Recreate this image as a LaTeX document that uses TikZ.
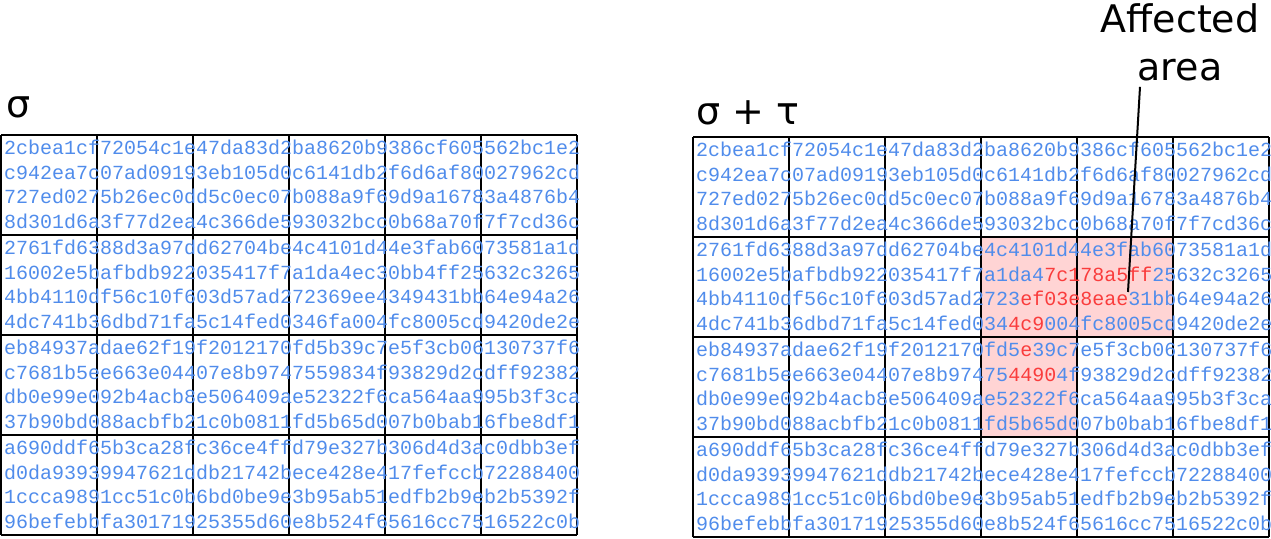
\documentclass[tikz,border=0pt]{standalone}
\usepackage{fontspec}
\setmainfont{DejaVu Sans}
\newfontfamily\hexfont{Liberation Mono}
\usetikzlibrary{calc}
\definecolor{hexblue}{RGB}{80,140,235}
\definecolor{hexred}{RGB}{250,60,60}
\definecolor{affectfill}{RGB}{255,212,212}
\newcommand{\changed}[1]{\textcolor{hexred}{#1}}
\tikzset{
    hex/.style={anchor=base west, inner sep=0pt, text=hexblue, font=\hexfont\fontsize{20}{24}\selectfont},
    title/.style={anchor=base west, inner sep=0pt, font=\fontsize{38}{48}\selectfont},
    callout/.style={anchor=north, inner sep=0pt, align=center, font=\fontsize{38}{48}\selectfont},
    cellgrid/.style={line width=2.2pt, black},
    hitcell/.style={fill=affectfill},
    pointer/.style={line width=2pt}
}
\begin{document}
\begin{tikzpicture}[x=1pt, y=1pt]
    \useasboundingbox (0,0) rectangle (1271,538);

    % sigma
    \node (sigma) [title] at (6,420) {σ};
    \begin{scope}[shift={(1,3)}]
        \draw [cellgrid] (0,0) grid[xstep=96, ystep=100] (576,400);
        \node (s11) [hex] at (3,380) {2cbea1cf72054c1e47da83d2ba8620b9386cf605562bc1e2};
        \node (s12) [hex] at (3,355.6) {c942ea7c07ad09193eb105d0c6141db2f6d6af80027962cd};
        \node (s13) [hex] at (3,331.2) {727ed0275b26ec0dd5c0ec07b088a9f69d9a16783a4876b4};
        \node (s14) [hex] at (3,306.8) {8d301d6a3f77d2ea4c366de593032bcc0b68a70f7f7cd36c};
        \node (s21) [hex] at (3,280) {2761fd6388d3a97dd62704be4c4101d44e3fab6073581a1d};
        \node (s22) [hex] at (3,255.6) {16002e5bafbdb922035417f7a1da4ec30bb4ff25632c3265};
        \node (s23) [hex] at (3,231.2) {4bb4110df56c10f603d57ad272369ee4349431bb64e94a26};
        \node (s24) [hex] at (3,206.8) {4dc741b36dbd71fa5c14fed0346fa004fc8005cd9420de2e};
        \node (s31) [hex] at (3,180) {eb84937adae62f19f2012170fd5b39c7e5f3cb06130737f6};
        \node (s32) [hex] at (3,155.6) {c7681b5ee663e04407e8b9747559834f93829d2cdff92382};
        \node (s33) [hex] at (3,131.2) {db0e99e092b4acb8e506409ae52322f6ca564aa995b3f3ca};
        \node (s34) [hex] at (3,106.8) {37b90bd088acbfb21c0b0811fd5b65d007b0bab16fbe8df1};
        \node (s41) [hex] at (3,80) {a690ddf65b3ca28fc36ce4ffd79e327b306d4d3ac0dbb3ef};
        \node (s42) [hex] at (3,55.6) {d0da93939947621ddb21742bece428e417fefccb72288400};
        \node (s43) [hex] at (3,31.2) {1ccca9891cc51c0b6bd0be9e3b95ab51edfb2b9eb2b5392f};
        \node (s44) [hex] at (3,6.8) {96befebbfa30171925355d60e8b524f65616cc7516522c0b};
    \end{scope}

    % sigma + tau
    \node (sigmatau) [title] at (696,413) {σ + τ};
    \begin{scope}[shift={(693,1)}]
        \fill [hitcell] (288,100) rectangle (384,300);
        \fill [hitcell] (384,200) rectangle (480,300);
        \draw [cellgrid] (0,0) grid[xstep=96, ystep=100] (576,400);
        \node (t11) [hex] at (3,380) {2cbea1cf72054c1e47da83d2ba8620b9386cf605562bc1e2};
        \node (t12) [hex] at (3,355.6) {c942ea7c07ad09193eb105d0c6141db2f6d6af80027962cd};
        \node (t13) [hex] at (3,331.2) {727ed0275b26ec0dd5c0ec07b088a9f69d9a16783a4876b4};
        \node (t14) [hex] at (3,306.8) {8d301d6a3f77d2ea4c366de593032bcc0b68a70f7f7cd36c};
        \node (t21) [hex] at (3,280) {2761fd6388d3a97dd62704be4c4101d44e3fab6073581a1d};
        \node (t22) [hex] at (3,255.6) {16002e5bafbdb922035417f7a1da4\changed{7c178a5ff}25632c3265};
        \node (t23) [hex] at (3,231.2) {4bb4110df56c10f603d57ad2723\changed{ef03e8eae}31bb64e94a26};
        \node (t24) [hex] at (3,206.8) {4dc741b36dbd71fa5c14fed034\changed{4c9}004fc8005cd9420de2e};
        \node (t31) [hex] at (3,180) {eb84937adae62f19f2012170fd5\changed{e}39c7e5f3cb06130737f6};
        \node (t32) [hex] at (3,155.6) {c7681b5ee663e04407e8b97475\changed{4490}4f93829d2cdff92382};
        \node (t33) [hex] at (3,131.2) {db0e99e092b4acb8e506409ae52322f6ca564aa995b3f3ca};
        \node (t34) [hex] at (3,106.8) {37b90bd088acbfb21c0b0811fd5b65d007b0bab16fbe8df1};
        \node (t41) [hex] at (3,80) {a690ddf65b3ca28fc36ce4ffd79e327b306d4d3ac0dbb3ef};
        \node (t42) [hex] at (3,55.6) {d0da93939947621ddb21742bece428e417fefccb72288400};
        \node (t43) [hex] at (3,31.2) {1ccca9891cc51c0b6bd0be9e3b95ab51edfb2b9eb2b5392f};
        \node (t44) [hex] at (3,6.8) {96befebbfa30171925355d60e8b524f65616cc7516522c0b};
    \end{scope}

    % callout
    \node (affected) [callout] at (1180,535) {Affected\\area};
    \coordinate (hit) at (1128,246);
    \draw [pointer] ($(affected.south)+(-40,-6)$) -- (hit);
\end{tikzpicture}
\end{document}
